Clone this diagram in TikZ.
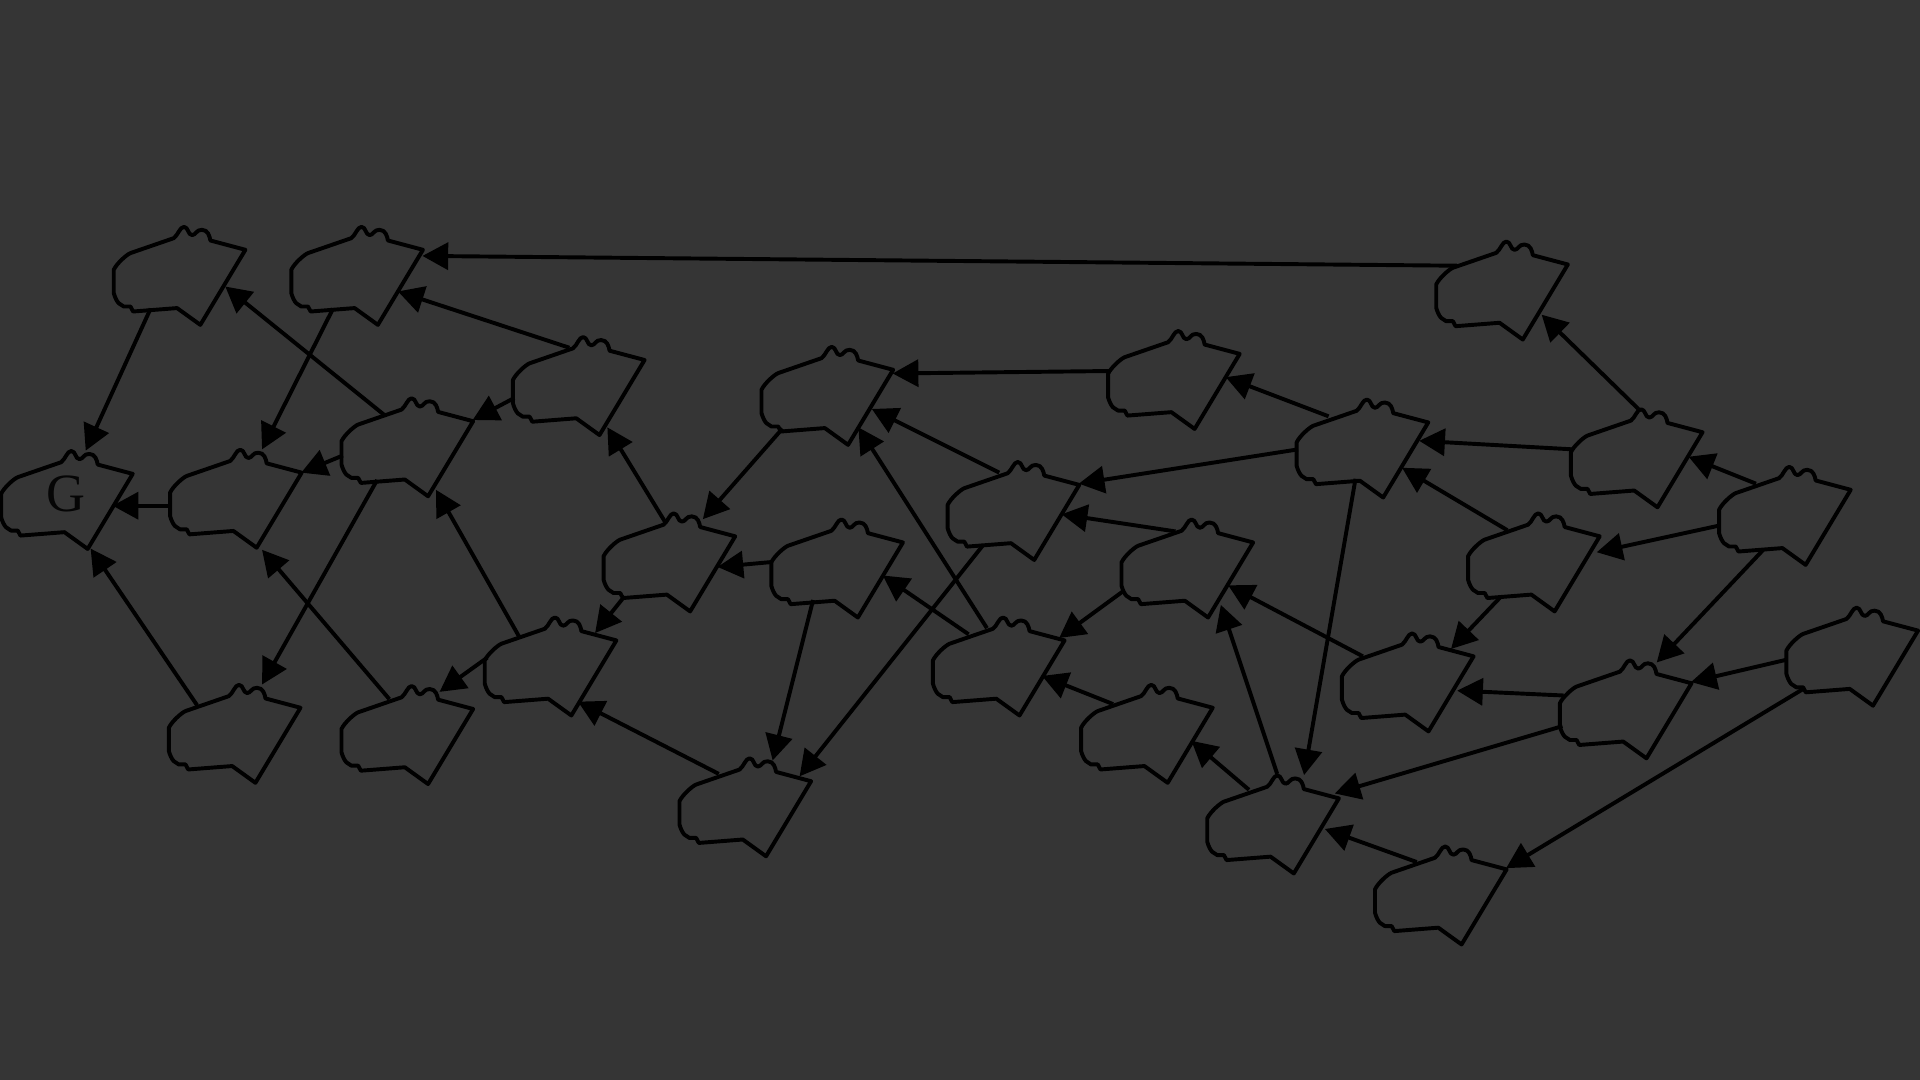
\documentclass[tikz,border=0pt]{standalone}
\usepackage{fontspec}
\setmainfont{Liberation Serif}
\usetikzlibrary{arrows.meta}
\makeatletter
\def\cpt#1#2{\pgfpoint{(#1+0.4)*0.5pt}{(#2)*-0.5pt}}
\pgfdeclareshape{capybara}{
  \anchor{center}{\pgfpointorigin}
  \anchor{text}{\pgfpoint{-.5\wd\pgfnodeparttextbox+0.6pt}{-.5\ht\pgfnodeparttextbox}}
  \backgroundpath{
    \pgfpathmoveto{\cpt{55}{-16}}
    \pgfpathlineto{\cpt{26.4}{-23.6}}
    \pgfpathcurveto{\cpt{25.8}{-27}}{\cpt{24.5}{-32.3}}{\cpt{19.5}{-32.3}}
    \pgfpathcurveto{\cpt{15}{-32.6}}{\cpt{14.5}{-28}}{\cpt{11.5}{-28}}
    \pgfpathcurveto{\cpt{8}{-28}}{\cpt{8.5}{-34.7}}{\cpt{4.8}{-34.7}}
    \pgfpathcurveto{\cpt{1.5}{-34.7}}{\cpt{0}{-28}}{\cpt{-3.5}{-25.5}}
    \pgfpathlineto{\cpt{-38.9}{-13.3}}
    \pgfpathcurveto{\cpt{-42}{-12}}{\cpt{-50}{-5}}{\cpt{-52.5}{0.3}}
    \pgfpathlineto{\cpt{-52.5}{19.4}}
    \pgfpathcurveto{\cpt{-51.5}{23}}{\cpt{-50}{26}}{\cpt{-48.5}{27.6}}
    \pgfpathlineto{\cpt{-44.4}{30.3}}
    \pgfpathlineto{\cpt{-38.9}{30.3}}
    \pgfpathlineto{\cpt{-36.7}{34.4}}
    \pgfpathlineto{\cpt{-0.8}{31.6}}
    \pgfpathlineto{\cpt{18.2}{45.3}}
    \pgfpathclose
  }
}
\makeatother
\definecolor{bgc}{HTML}{353535}
\tikzset{
  animal/.style={shape=capybara,draw=black,line width=1.6pt,line join=round,inner sep=0pt,font=\fontsize{22}{22}\selectfont,text=black!90!bgc},
  conn/.style={draw=black,line width=1.6pt,-{Triangle[length=10.5pt,width=11pt]}}
}
\begin{document}
\begin{tikzpicture}[x=0.5pt,y=-0.5pt]
\useasboundingbox (0,0) rectangle (1568,882);
\fill[bgc] (0,0) rectangle (1568,882);
\node[animal] (a) at (145,220) {};
\node[animal] (b) at (290,220) {};
\node[animal] (c) at (1225,232) {};
\node[animal] (d) at (471,310) {};
\node[animal] (e) at (331,360) {};
\node[animal] (g) at (53,403) {G};
\node[animal] (f) at (191,402) {};
\node[animal] (h) at (190,594) {};
\node[animal] (i) at (331,595) {};
\node[animal] (j) at (448,539) {};
\node[animal] (k) at (545,454) {};
\node[animal] (l) at (682,459) {};
\node[animal] (m) at (607,654) {};
\node[animal] (n) at (674,318) {};
\node[animal] (o) at (826,412) {};
\node[animal] (p) at (957,305) {};
\node[animal] (q) at (968,459) {};
\node[animal] (r) at (814,539) {};
\node[animal] (s) at (935,594) {};
\node[animal] (t) at (1111,361) {};
\node[animal] (u) at (1335,369) {};
\node[animal] (v) at (1456,416) {};
\node[animal] (w) at (1251,454) {};
\node[animal] (x) at (1148,552) {};
\node[animal] (yy) at (1326,574) {};
\node[animal] (z) at (1511,531) {};
\node[animal] (aa) at (1038,668) {};
\node[animal] (ab) at (1175,726) {};
\draw[conn] ([shift={(-35,-15)}]c.center) -- ([shift={(55,-11)}]b.center);
\draw[conn] ([shift={(-22,32)}]a.center) -- ([shift={(17,-35)}]g.center);
\draw[conn] ([shift={(-18,32)}]b.center) -- ([shift={(23,-35)}]f.center);
\draw[conn] ([shift={(-6,-26)}]d.center) -- ([shift={(35,18)}]b.center);
\draw[conn] ([shift={(-17,-21)}]e.center) -- ([shift={(39,14)}]a.center);
\draw[conn] ([shift={(-51,15)}]d.center) -- ([shift={(55,-17)}]e.center);
\draw[conn] ([shift={(-51,12)}]e.center) -- ([shift={(55,-16)}]f.center);
\draw[conn] ([shift={(-52,11)}]f.center) -- ([shift={(39,10)}]g.center);
\draw[conn] ([shift={(-29,-18)}]h.center) -- ([shift={(21,45)}]g.center);
\draw[conn] ([shift={(-13,-24)}]i.center) -- ([shift={(23,47)}]f.center);
\draw[conn] ([shift={(-23,32)}]e.center) -- ([shift={(24,-35)}]h.center);
\draw[conn] ([shift={(-24,-19)}]j.center) -- ([shift={(25,40)}]e.center);
\draw[conn] ([shift={(-50,-2)}]j.center) -- ([shift={(28,-30)}]i.center);
\draw[conn] ([shift={(-2,-28)}]k.center) -- ([shift={(25,39)}]d.center);
\draw[conn] ([shift={(-35,33)}]k.center) -- ([shift={(38,-22)}]j.center);
\draw[conn] ([shift={(-52,0)}]l.center) -- ([shift={(41,9)}]k.center);
\draw[conn] ([shift={(-20,-22)}]m.center) -- ([shift={(24,34)}]j.center);
\draw[conn] ([shift={(-18,31)}]l.center) -- ([shift={(24,-33)}]m.center);
\draw[conn] ([shift={(-35,32)}]n.center) -- ([shift={(29,-30)}]k.center);
\draw[conn] ([shift={(-10,-26)}]o.center) -- ([shift={(38,16)}]n.center);
\draw[conn] ([shift={(-23,33)}]o.center) -- ([shift={(46,-20)}]m.center);
\draw[conn] ([shift={(-8,-26)}]r.center) -- ([shift={(27,31)}]n.center);
\draw[conn] ([shift={(-51,-2)}]p.center) -- ([shift={(55,-13)}]n.center);
\draw[conn] ([shift={(-23,-21)}]r.center) -- ([shift={(39,11)}]l.center);
\draw[conn] ([shift={(-8,-25)}]q.center) -- ([shift={(41,8)}]o.center);
\draw[conn] ([shift={(-51,24)}]q.center) -- ([shift={(51,-18)}]r.center);
\draw[conn] ([shift={(-26,-19)}]s.center) -- ([shift={(37,13)}]r.center);
\draw[conn] ([shift={(-51,6)}]t.center) -- ([shift={(55,-17)}]o.center);
\draw[conn] ([shift={(-26,-21)}]t.center) -- ([shift={(44,3)}]p.center);
\draw[conn] ([shift={(-4,30)}]t.center) -- ([shift={(27,-35)}]aa.center);
\draw[conn] ([shift={(-50,-2)}]u.center) -- ([shift={(48,-1)}]t.center);
\draw[conn] ([shift={(3,-35)}]u.center) -- ([shift={(34,25)}]c.center);
\draw[conn] ([shift={(-22,-21)}]v.center) -- ([shift={(44,4)}]u.center);
\draw[conn] ([shift={(-51,13)}]v.center) -- ([shift={(53,-3)}]w.center);
\draw[conn] ([shift={(-20,-21)}]w.center) -- ([shift={(34,21)}]t.center);
\draw[conn] ([shift={(-25,33)}]w.center) -- ([shift={(37,-22)}]x.center);
\draw[conn] ([shift={(-16,33)}]v.center) -- ([shift={(27,-33)}]yy.center);
\draw[conn] ([shift={(-35,-16)}]x.center) -- ([shift={(35,19)}]q.center);
\draw[conn] ([shift={(-49,-6)}]yy.center) -- ([shift={(42,12)}]x.center);
\draw[conn] ([shift={(-53,8)}]z.center) -- ([shift={(55,-17)}]yy.center);
\draw[conn] ([shift={(-39,32)}]z.center) -- ([shift={(55,-17)}]ab.center);
\draw[conn] ([shift={(-50,19)}]yy.center) -- ([shift={(52,-20)}]aa.center);
\draw[conn] ([shift={(-18,-23)}]aa.center) -- ([shift={(38,11)}]s.center);
\draw[conn] ([shift={(5,-36)}]aa.center) -- ([shift={(29,35)}]q.center);
\draw[conn] ([shift={(-18,-22)}]ab.center) -- ([shift={(44,9)}]aa.center);
\end{tikzpicture}
\end{document}
